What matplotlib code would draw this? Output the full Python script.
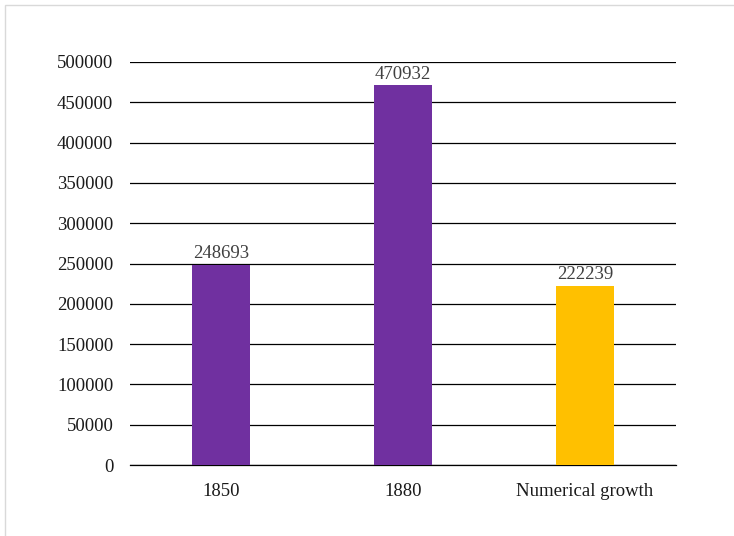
import matplotlib
matplotlib.use("Agg")
import matplotlib.pyplot as plt
from matplotlib.patches import Rectangle

plt.rcParams["font.family"] = ["Liberation Serif", "DejaVu Serif"]

categories = ["1850", "1880", "Numerical growth"]
values = [248693, 470932, 222239]
colors = ["#7030A0", "#7030A0", "#FFC000"]
yticks = [0, 50000, 100000, 150000, 200000, 250000, 300000, 350000, 400000, 450000, 500000]

fig = plt.figure(figsize=(7.34, 5.36), dpi=100)
fig.patches.append(Rectangle((5 / 734, -0.1), 1.2, 0.1 + (536 - 4.5) / 536,
                             transform=fig.transFigure, fill=False,
                             edgecolor="#d9d9d9", linewidth=1.0))

ax = fig.add_axes([130 / 734, 71 / 536, 546 / 734, 403 / 536])
x = range(len(categories))
bars = ax.bar(x, values, width=0.32, color=colors, zorder=3)
for bar, v in zip(bars, values):
    ax.text(bar.get_x() + bar.get_width() / 2, v + 3000, str(v),
            ha="center", va="bottom", fontsize=13.5, color="#404040")

ax.set_xlim(-0.5, 2.5)
ax.set_ylim(0, 500000)
ax.set_yticks(yticks)
ax.set_yticklabels([str(t) for t in yticks], fontsize=13.5)
ax.set_xticks(list(x))
ax.set_xticklabels(categories, fontsize=13.5)
ax.grid(axis="y", color="black", linewidth=0.9, zorder=0)
for s in ["top", "right", "left"]:
    ax.spines[s].set_visible(False)
ax.spines["bottom"].set_color("black")
ax.spines["bottom"].set_linewidth(0.9)
ax.tick_params(axis="both", length=0, pad=12, colors="#1a1a1a")
ax.tick_params(axis="x", pad=13)

fig.savefig("out.png", dpi=100)
